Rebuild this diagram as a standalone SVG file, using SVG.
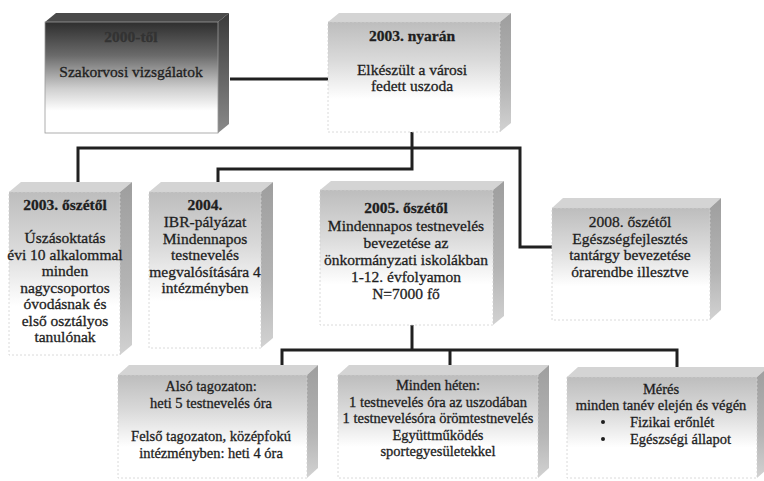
<svg xmlns="http://www.w3.org/2000/svg" width="764" height="481" viewBox="0 0 764 481">
<defs>
<linearGradient id="gf" x1="0" y1="0" x2="0" y2="1">
<stop offset="0" stop-color="#bdbdbd"/>
<stop offset="0.35" stop-color="#dadada"/>
<stop offset="0.7" stop-color="#ffffff"/>
<stop offset="1" stop-color="#ffffff"/>
</linearGradient>
<linearGradient id="gs" x1="0" y1="0" x2="0" y2="1">
<stop offset="0" stop-color="#9e9e9e"/>
<stop offset="0.6" stop-color="#b4b4b4"/>
<stop offset="1" stop-color="#d2d2d2"/>
</linearGradient>
<linearGradient id="gd" x1="0" y1="0" x2="0" y2="1">
<stop offset="0" stop-color="#2e2e2e"/>
<stop offset="0.3" stop-color="#6a6a6a"/>
<stop offset="0.6" stop-color="#cfcfcf"/>
<stop offset="0.8" stop-color="#ffffff"/>
<stop offset="1" stop-color="#ffffff"/>
</linearGradient>
<linearGradient id="gds" x1="0" y1="0" x2="0" y2="1">
<stop offset="0" stop-color="#3a3a3a"/>
<stop offset="1" stop-color="#8a8a8a"/>
</linearGradient>
</defs>
<style>
.f{fill:url(#gf);stroke:#d0d0d0;stroke-width:0.8;stroke-dasharray:2 2}
.tp{fill:#d4d4d4}
.sd{fill:url(#gs)}
.df{fill:url(#gd);stroke:#999;stroke-width:0.8}
.dt{fill:#4a4a4a}
.ds{fill:url(#gds)}
.c{fill:none;stroke:#202020;stroke-width:3}
text{font-family:"Liberation Serif","Times New Roman",serif;font-size:15.5px;fill:#1e1e1e;stroke:#1e1e1e;stroke-width:0.3;text-anchor:middle}
.b{font-weight:bold}
.s{font-size:14.5px}
.dk{fill:#333333;stroke:#333333}
</style>
<rect width="764" height="481" fill="#ffffff"/>
<g id="connectors">
<path class="c" d="M230,79 H328"/>
<path class="c" d="M412,132 V169 H218 V183"/>
<path class="c" d="M78,183 V148 H520 V247 H552"/>
<path class="c" d="M412,325 V350"/>
<path class="c" d="M282,366 V350 H677 V368"/>
<path class="c" d="M450,350 V366"/>
</g>
<g id="n1">
<path class="dt" d="M45,22 L56,13 L229,13 L218,22 Z"/>
<path class="ds" d="M218,22 L229,13 L229,124 L218,133 Z"/>
<rect class="df" x="45" y="22" width="173" height="111"/>
<text class="b dk" x="131" y="42">2000-től</text>
<text x="131" y="77">Szakorvosi vizsgálatok</text>
</g>
<g id="n2">
<path class="tp" d="M328,22 L339,13 L511,13 L500,22 Z"/>
<path class="sd" d="M500,22 L511,13 L511,123 L500,132 Z"/>
<rect class="f" x="328" y="22" width="172" height="110"/>
<text class="b" x="412" y="41">2003. nyarán</text>
<text x="412" y="75">Elkészült a városi</text>
<text x="412" y="91">fedett uszoda</text>
</g>
<g id="n3">
<path class="tp" d="M9,192 L21,182 L132,182 L120,192 Z"/>
<path class="sd" d="M120,192 L132,182 L132,345 L120,355 Z"/>
<rect class="f" x="9" y="192" width="111" height="163"/>
<text class="b" x="65" y="210">2003. őszétől</text>
<text x="65" y="243">Úszásoktatás</text>
<text x="65" y="259.5">évi 10 alkalommal</text>
<text x="65" y="276">minden</text>
<text x="65" y="292.5">nagycsoportos</text>
<text x="65" y="309">óvodásnak és</text>
<text x="65" y="325.5">első osztályos</text>
<text x="65" y="342">tanulónak</text>
</g>
<g id="n4">
<path class="tp" d="M149,192 L161,182 L273,182 L261,192 Z"/>
<path class="sd" d="M261,192 L273,182 L273,338 L261,348 Z"/>
<rect class="f" x="149" y="192" width="112" height="156"/>
<text class="b" x="205" y="210">2004.</text>
<text x="205" y="227">IBR-pályázat</text>
<text x="205" y="243.5">Mindennapos</text>
<text x="205" y="260">testnevelés</text>
<text x="205" y="276.5">megvalósítására 4</text>
<text x="205" y="293">intézményben</text>
</g>
<g id="n5">
<path class="tp" d="M320,190 L331,181 L504,181 L493,190 Z"/>
<path class="sd" d="M493,190 L504,181 L504,316 L493,325 Z"/>
<rect class="f" x="320" y="190" width="173" height="135"/>
<text class="b" x="406" y="213">2005. őszétől</text>
<text x="406" y="231">Mindennapos testnevelés</text>
<text x="406" y="248">bevezetése az</text>
<text x="406" y="265">önkormányzati iskolákban</text>
<text x="406" y="282">1-12. évfolyamon</text>
<text x="406" y="299">N=7000 fő</text>
</g>
<g id="n6">
<path class="tp" d="M552,208 L563,198 L721,198 L710,208 Z"/>
<path class="sd" d="M710,208 L721,198 L721,310 L710,320 Z"/>
<rect class="f" x="552" y="208" width="158" height="112"/>
<text x="630" y="227">2008. őszétől</text>
<text x="630" y="243.5">Egészségfejlesztés</text>
<text x="630" y="260">tantárgy bevezetése</text>
<text x="630" y="276.5">órarendbe illesztve</text>
</g>
<g id="n7">
<path class="tp" d="M118,375 L129,365 L318,365 L307,375 Z"/>
<path class="sd" d="M307,375 L318,365 L318,468 L307,478 Z"/>
<rect class="f" x="118" y="375" width="189" height="103"/>
<text class="s" x="211" y="391">Alsó tagozaton:</text>
<text class="s" x="211" y="407.5">heti 5 testnevelés óra</text>
<text class="s" x="211" y="441">Felső tagozaton, középfokú</text>
<text class="s" x="211" y="457.5">intézményben: heti 4 óra</text>
</g>
<g id="n8">
<path class="tp" d="M338,375 L349,365 L549,365 L538,375 Z"/>
<path class="sd" d="M538,375 L549,365 L549,468 L538,478 Z"/>
<rect class="f" x="338" y="375" width="200" height="103"/>
<text class="s" x="438" y="390">Minden héten:</text>
<text class="s" x="438" y="406.5">1 testnevelés óra az uszodában</text>
<text class="s" x="438" y="423">1 testnevelésóra örömtestnevelés</text>
<text class="s" x="438" y="439.5">Együttműködés</text>
<text class="s" x="438" y="456">sportegyesületekkel</text>
</g>
<g id="n9">
<path class="tp" d="M567,377 L578,367 L768,367 L757,377 Z"/>
<path class="sd" d="M757,377 L768,367 L768,468 L757,478 Z"/>
<rect class="f" x="567" y="377" width="190" height="101"/>
<text class="s" x="661" y="394">Mérés</text>
<text class="s" x="661" y="410">minden tanév elején és végén</text>
<circle cx="603" cy="422" r="2" fill="#1e1e1e"/>
<text class="s" x="630" y="427" style="text-anchor:start">Fizikai erőnlét</text>
<circle cx="603" cy="439" r="2" fill="#1e1e1e"/>
<text class="s" x="630" y="444" style="text-anchor:start">Egészségi állapot</text>
</g>
</svg>
